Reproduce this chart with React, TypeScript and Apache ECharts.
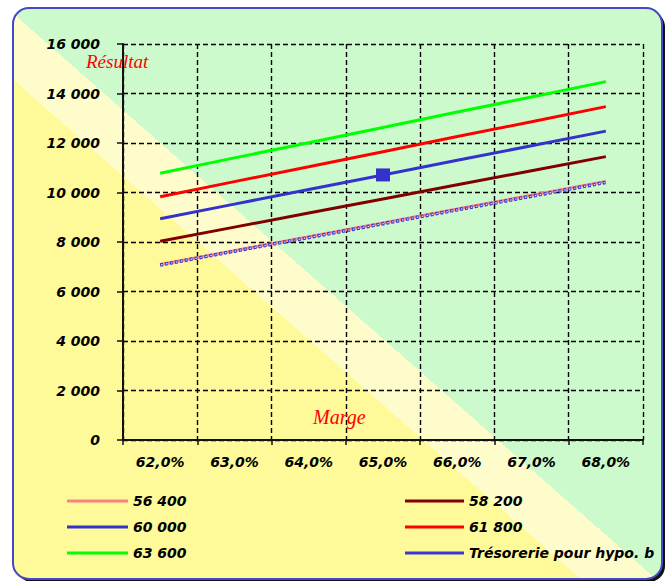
import React, { useEffect, useRef } from "react";
import * as echarts from "echarts";

// ---- Data ----
const categories = ["62,0%", "63,0%", "64,0%", "65,0%", "66,0%", "67,0%", "68,0%"];
const values56400 = [7090, 7650, 8210, 8770, 9330, 9890, 10450];
const values58200 = [8030, 8600, 9170, 9740, 10310, 10880, 11450];
const values60000 = [8940, 9530, 10120, 10710, 11300, 11890, 12480];
const values61800 = [9830, 10440, 11040, 11650, 12260, 12860, 13470];
const values63600 = [10780, 11400, 12010, 12630, 13250, 13860, 14480];
const valuesTresorerie = [7070, 7630, 8180, 8740, 9300, 9850, 10410];
const seriesNames = ["56 400", "58 200", "60 000", "61 800", "63 600", "Trésorerie pour hypo. basse"];
const markerIndex = 3; // point marked on the 60 000 curve
const yMin = 0;
const yMax = 16000;
const yInterval = 2000;
const yAxisTitle = "Résultat";
const xAxisTitle = "Marge";

const fmtThousands = (v: number) => String(v).replace(/\B(?=(\d{3})+(?!\d))/g, " ");

export default function App() {
  const ref = useRef<HTMLDivElement>(null);

  useEffect(() => {
    if (!ref.current) return;
    const chart = echarts.init(ref.current, undefined, { renderer: "svg" });

    const labelFont = {
      fontFamily: "DejaVu Sans",
      fontWeight: "bold" as const,
      fontStyle: "italic" as const,
      fontSize: 14,
      color: "#000",
    };

    // gradient direction perpendicular to the box diagonal
    const bgGradient = new echarts.graphic.LinearGradient(
      601.7, -6.8, 73.3, 593.8,
      [
        { offset: 0, color: "#CCFACC" },
        { offset: 0.505, color: "#CCFACC" },
        { offset: 0.505, color: "#FFFCCC" },
        { offset: 0.567, color: "#FFFCCC" },
        { offset: 0.567, color: "#FFFA99" },
        { offset: 1, color: "#FFFA99" },
      ],
      true
    );

    const lineSeries = (name: string, data: any[], color: string, extra: any = {}) => ({
      name,
      type: "line",
      data,
      symbol: "none",
      showSymbol: true,
      lineStyle: { color, width: 3 },
      itemStyle: { color },
      emphasis: { disabled: true },
      ...extra,
    });

    const legendBase = {
      orient: "vertical",
      top: 494,
      padding: 0,
      icon: "rect",
      itemHeight: 3,
      itemGap: 12,
      selectedMode: false,
    };

    const option: any = {
      animation: false,
      graphic: [
        {
          type: "rect",
          z: -20,
          silent: true,
          shape: { x: 16, y: 11, width: 649, height: 571, r: 16 },
          style: { fill: "#111" },
        },
        {
          type: "rect",
          z: -10,
          silent: true,
          shape: { x: 13, y: 8, width: 649, height: 571, r: 16 },
          style: { fill: bgGradient, stroke: "#4646C8", lineWidth: 2 },
        },
        {
          type: "text",
          z: 100,
          x: 86,
          y: 61,
          style: {
            text: yAxisTitle,
            font: "italic 19px 'Liberation Serif'",
            fill: "#FF0000",
            verticalAlign: "middle",
          },
        },
        {
          type: "text",
          z: 100,
          x: 313,
          y: 417,
          style: {
            text: xAxisTitle,
            font: "italic 20px 'Liberation Serif'",
            fill: "#FF0000",
            verticalAlign: "middle",
          },
        },
      ],
      grid: { left: 123, right: 24, top: 44, bottom: 141, containLabel: false },
      legend: [
        {
          ...legendBase,
          data: [seriesNames[0], seriesNames[2], seriesNames[4]],
          left: 67,
          itemWidth: 61,
          textStyle: { ...labelFont, lineHeight: 14 },
        },
        {
          ...legendBase,
          data: [seriesNames[1], seriesNames[3], seriesNames[5]],
          left: 405,
          itemWidth: 59,
          textStyle: { ...labelFont, lineHeight: 14, width: 193, overflow: "truncate", ellipsis: "" },
        },
      ],
      xAxis: {
        type: "category",
        data: categories,
        boundaryGap: true,
        axisLine: { show: true, lineStyle: { color: "#111", width: 2 } },
        axisTick: { show: true, length: 5, lineStyle: { color: "#111", width: 1.5 } },
        axisLabel: { ...labelFont, margin: 15 },
        splitLine: { show: true, lineStyle: { color: "#000", width: 1.4, type: [5, 3] } },
      },
      yAxis: {
        type: "value",
        min: yMin,
        max: yMax,
        interval: yInterval,
        axisLine: { show: true, lineStyle: { color: "#111", width: 2 } },
        axisTick: { show: true, length: 6, lineStyle: { color: "#111", width: 1.5 } },
        axisLabel: { ...labelFont, margin: 23, formatter: (v: number) => fmtThousands(v) },
        splitLine: { show: true, lineStyle: { color: "#000", width: 1.4, type: [5, 3] } },
      },
      series: [
        lineSeries(seriesNames[0], values56400, "#FF8080"),
        lineSeries(seriesNames[1], values58200, "#800000"),
        lineSeries(
          seriesNames[2],
          values60000.map((v, i) =>
            i === markerIndex ? { value: v, symbol: "rect", symbolSize: [14, 13] } : v
          ),
          "#3333CC"
        ),
        lineSeries(seriesNames[3], values61800, "#FF0000"),
        lineSeries(seriesNames[4], values63600, "#00FF00"),
        lineSeries(seriesNames[5], valuesTresorerie, "#3A3AD0", {
          lineStyle: { color: "#3A3AD0", width: 3.5, type: [3, 2] },
        }),
        {
          name: "tresorerie-overlay",
          type: "line",
          data: valuesTresorerie,
          symbol: "none",
          silent: true,
          emphasis: { disabled: true },
          lineStyle: { color: "#D8E0FF", width: 1.2, type: [1.5, 3.5], dashOffset: -0.75 },
        },
      ],
    };

    chart.setOption(option);
    return () => chart.dispose();
  }, []);

  return (
    <div
      ref={ref}
      style={{ position: "absolute", left: 0, top: 0, width: 667, height: 581 }}
    />
  );
}
